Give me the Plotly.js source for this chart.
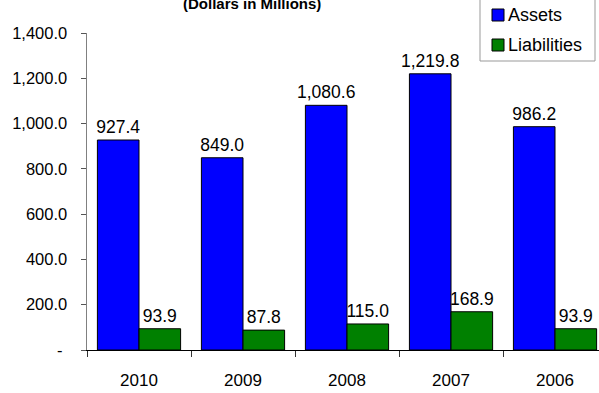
<!DOCTYPE html>
<html>
<head>
<meta charset="utf-8">
<script src="https://cdn.plot.ly/plotly-3.0.1.min.js"></script>
<style>
  html, body { margin: 0; padding: 0; background: #fff; }
  #chart { width: 599px; height: 393px; }
</style>
</head>
<body>
<div id="chart"></div>
<script>
// Fiscal years, most recent first
const years = ['2010', '2009', '2008', '2007', '2006'];
// Balances in millions of dollars
const assets = [927.4, 849.0, 1080.6, 1219.8, 986.2];
const liabilities = [93.9, 87.8, 115.0, 168.9, 93.9];
// Series names and fills
const seriesNames = ['Assets', 'Liabilities'];
const seriesColors = ['#0000FF', '#008000'];
// Value axis ticks
const yTickVals = [0, 200, 400, 600, 800, 1000, 1200, 1400];
const yTickText = ['-\u00a0', '200.0', '400.0', '600.0', '800.0', '1,000.0', '1,200.0', '1,400.0'];

const font = 'Liberation Sans, Arial, sans-serif';
const W = 599, H = 393;

const barTrace = (i, values) => ({
  type: 'bar',
  name: seriesNames[i],
  x: years,
  y: values,
  marker: { color: seriesColors[i], line: { color: '#000', width: 1 } },
  texttemplate: '%{y:,.1f}',
  textposition: 'outside',
  constraintext: 'none',
  cliponaxis: false,
  textfont: { family: font, size: 17.5, color: '#000' },
  hoverinfo: 'x+y'
});

const data = [barTrace(0, assets), barTrace(1, liabilities)];

// Boxed key in the top-right corner, in pixel terms converted to paper units
const margin = { l: 87, r: 0, t: 33, b: 43 };
const px = x => (x - margin.l) / (W - margin.l - margin.r);
const py = y => (H - margin.b - y) / (H - margin.t - margin.b);

const shapes = [{
  type: 'rect', xref: 'paper', yref: 'paper',
  x0: px(480), x1: px(595), y0: py(61), y1: py(-2),
  line: { color: '#999', width: 1 }, fillcolor: '#fff', layer: 'above'
}];
const annotations = [{
  text: '<b>(Dollars in Millions)</b>',
  xref: 'paper', yref: 'paper',
  x: px(252), y: py(14),
  xanchor: 'center', yanchor: 'bottom',
  showarrow: false,
  font: { family: font, size: 15, color: '#000' }
}];
seriesNames.forEach((name, i) => {
  const cy = 15 + 30 * i;
  shapes.push({
    type: 'rect', xref: 'paper', yref: 'paper',
    x0: px(492), x1: px(504), y0: py(cy + 6), y1: py(cy - 6),
    line: { color: '#000', width: 1 }, fillcolor: seriesColors[i], layer: 'above'
  });
  annotations.push({
    text: name, xref: 'paper', yref: 'paper',
    x: px(506), y: py(cy),
    xanchor: 'left', yanchor: 'middle', showarrow: false,
    font: { family: font, size: 18, color: '#000' }
  });
});

const layout = {
  width: W,
  height: H,
  margin: margin,
  paper_bgcolor: '#fff',
  plot_bgcolor: '#fff',
  barmode: 'group',
  bargap: 0.2,
  bargroupgap: 0,
  showlegend: false,
  font: { family: font, color: '#000' },
  xaxis: {
    type: 'category',
    range: [-0.5, 4.423],
    tickson: 'boundaries',
    ticks: 'outside',
    ticklen: 6,
    tickcolor: '#333',
    ticklabelstandoff: 15,
    showline: true,
    linecolor: '#000',
    linewidth: 1,
    showgrid: false,
    zeroline: false,
    tickfont: { family: font, size: 17, color: '#000' },
    fixedrange: true
  },
  yaxis: {
    range: [0, 1400],
    tickvals: yTickVals,
    ticktext: yTickText,
    ticks: 'outside',
    ticklen: 5,
    tickcolor: '#555',
    ticklabelstandoff: 10,
    showline: true,
    linecolor: '#808080',
    linewidth: 1.5,
    showgrid: false,
    zeroline: false,
    tickfont: { family: font, size: 16.5, color: '#000' },
    fixedrange: true
  },
  shapes: shapes,
  annotations: annotations
};

Plotly.newPlot('chart', data, layout, { displayModeBar: false, staticPlot: true });
</script>
</body>
</html>
